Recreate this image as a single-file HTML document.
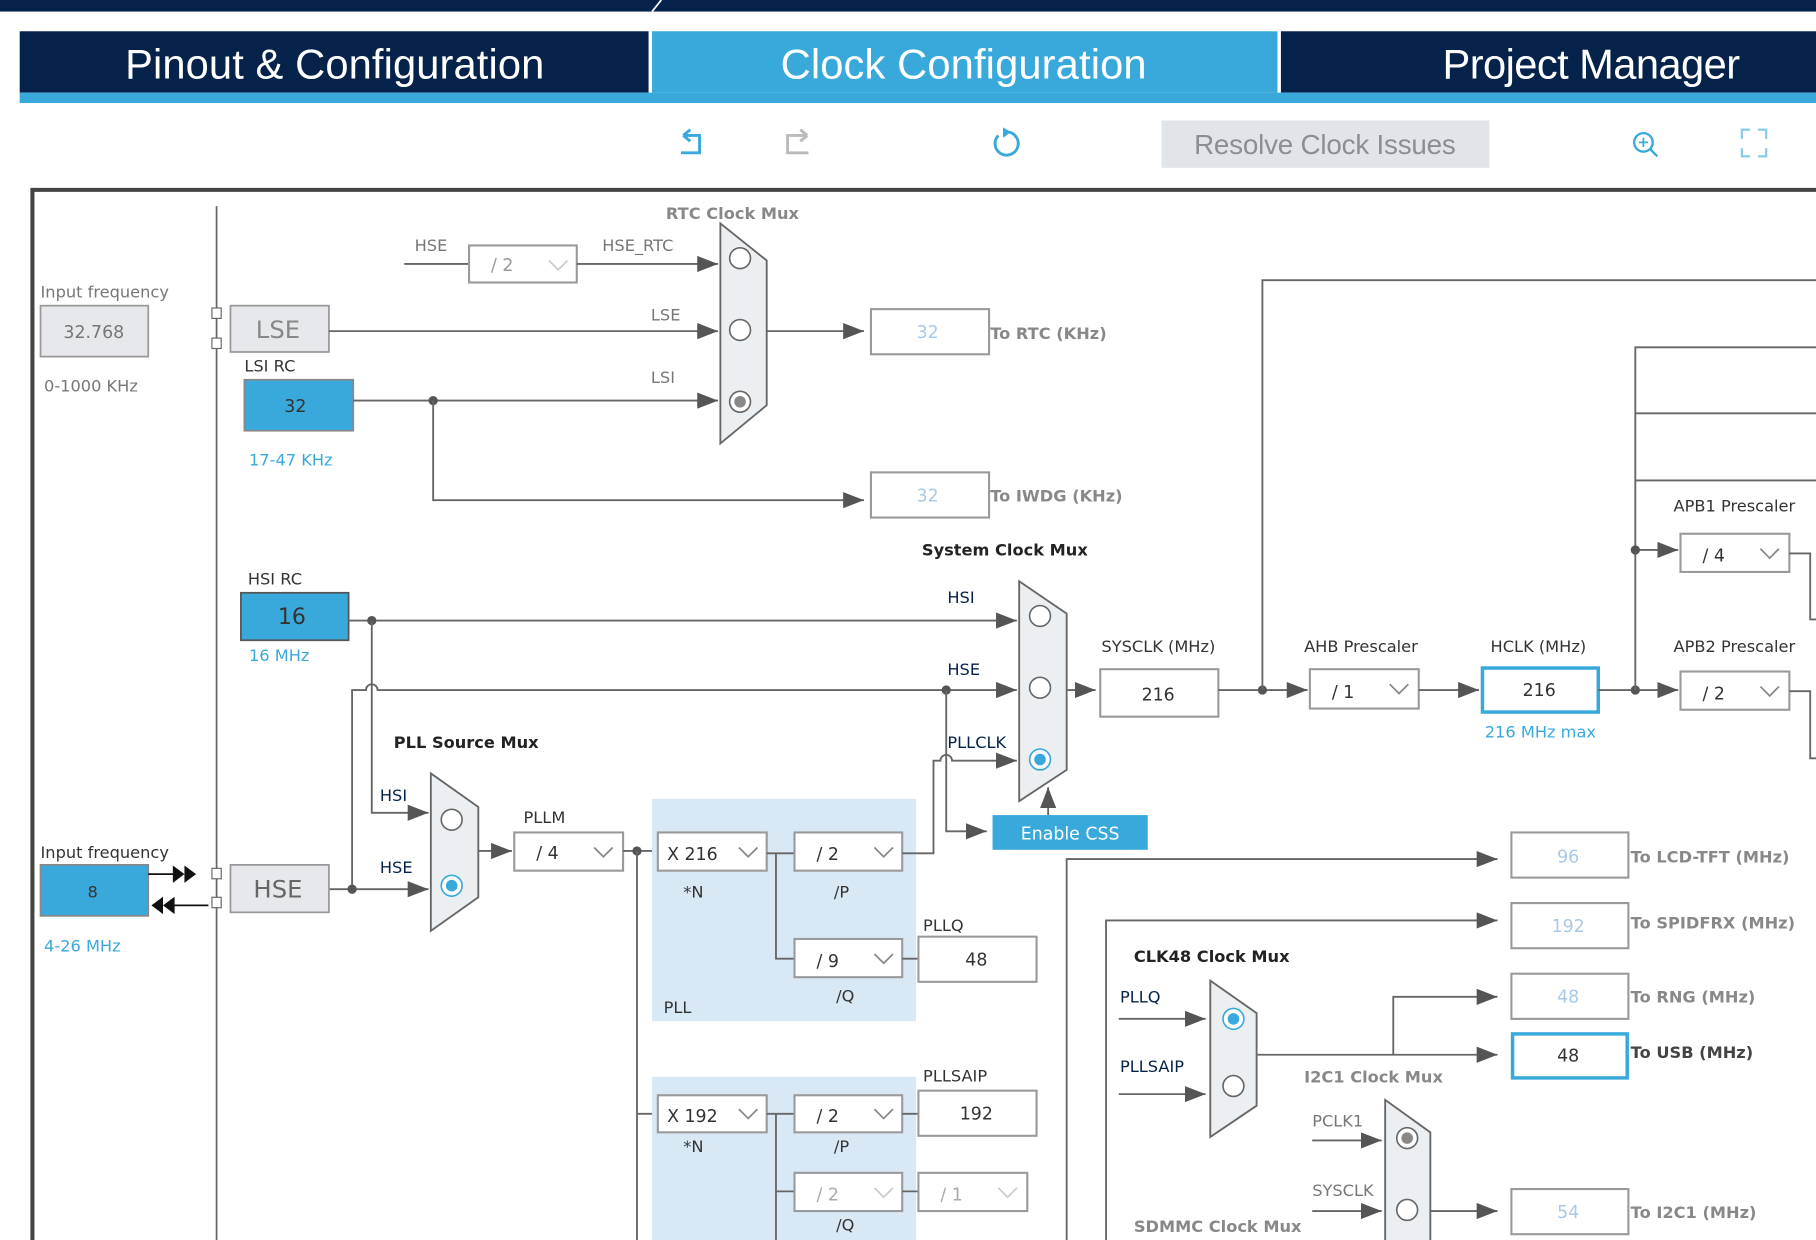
<!DOCTYPE html>
<html><head><meta charset="utf-8"><style>
html,body{margin:0;padding:0;background:#fff;overflow:hidden}
svg{display:block}
text{font-family:"DejaVu Sans","Liberation Sans",sans-serif}
.l{stroke:#666;stroke-width:1.6;fill:none}
.bx{fill:#fff;stroke:#999;stroke-width:1.8}
.ch{fill:none;stroke:#888;stroke-width:1.5}
.chd{fill:none;stroke:#ccc;stroke-width:1.5}
.t{font-size:14px;fill:#333}
.g{font-size:14px;fill:#777}
.b{font-size:14px;fill:#222;font-weight:bold}
.gb{font-size:14px;fill:#888;font-weight:bold}
.blu{font-size:14px;fill:#39a9dc}
.v{font-size:15px;fill:#333;text-anchor:middle}
.vl{font-size:15px;fill:#a9c8e6;text-anchor:middle}
.mux{fill:#eceff2;stroke:#666;stroke-width:1.6}
.c{fill:#fff;stroke:#666;stroke-width:1.4}
.dot{fill:#555}
.tab{font-family:"Liberation Sans",sans-serif}
</style></head><body>
<svg width="1816" height="1240" viewBox="0 0 1568 1071" preserveAspectRatio="none" xmlns="http://www.w3.org/2000/svg">
<defs>
<marker id="ar" markerWidth="20" markerHeight="14" refX="18" refY="7" orient="auto" markerUnits="userSpaceOnUse"><path d="M0,0 L18,7 L0,14 z" fill="#555"/></marker></defs>
<!-- header -->
<rect x="0" y="0" width="1568" height="10" fill="#05224a"/>
<line x1="571" y1="0" x2="563" y2="10" stroke="#fff" stroke-width="1.5"/>
<rect x="17" y="27" width="543" height="53" fill="#05224a"/>
<rect x="563" y="27" width="540" height="53" fill="#39a9dc"/>
<rect x="1106" y="27" width="462" height="53" fill="#05224a"/>
<rect x="17" y="80" width="1551" height="9" fill="#39a9dc"/>
<text class="tab" x="289" y="68" font-size="36" fill="#fff" text-anchor="middle" textLength="362">Pinout &amp; Configuration</text>
<text class="tab" x="832" y="68" font-size="36" fill="#fff" text-anchor="middle" textLength="316">Clock Configuration</text>
<text class="tab" x="1374" y="68" font-size="36" fill="#fff" text-anchor="middle" textLength="257">Project Manager</text>
<!-- toolbar -->
<path d="M590,117 L596,112 M590,117 L596,122 M590,117 H604 V132 H588" stroke="#39a9dc" stroke-width="2.5" fill="none"/>
<path d="M697,117 L691,112 M697,117 L691,122 M697,117 H680 V132 H698" stroke="#bbb" stroke-width="2.5" fill="none"/>
<path d="M862,117 A10,10 0 1 0 870,114" stroke="#39a9dc" stroke-width="2.5" fill="none"/><path d="M866,110 L873,114 L866,119z" fill="#39a9dc"/>
<rect x="1003" y="104" width="283" height="41" fill="#e2e5e8"/>
<text class="tab" x="1144" y="133" font-size="24" fill="#8a8f94" text-anchor="middle" textLength="226">Resolve Clock Issues</text>
<circle cx="1419" cy="123" r="8" stroke="#39a9dc" stroke-width="2" fill="none"/><line x1="1425" y1="129" x2="1431" y2="135" stroke="#39a9dc" stroke-width="2"/><path d="M1415,123h8M1419,119v8" stroke="#39a9dc" stroke-width="1.5"/>
<path d="M1504,120v-8h7M1518,112h7v8M1525,128v7h-7M1511,135h-7v-7" stroke="#8ccbeb" stroke-width="2" fill="none"/>
<!-- frame -->
<path d="M28,1071 V164 H1568" stroke="#444" stroke-width="3.5" fill="none"/>
<line x1="187" y1="178" x2="187" y2="1071" stroke="#666" stroke-width="1.5"/>
<!-- LSE -->
<text x="35" y="257" class="g">Input frequency</text>
<rect x="35" y="264" width="93" height="44" fill="#e6e8eb" stroke="#999" stroke-width="1.5"/>
<text x="81" y="292" class="v" style="fill:#777">32.768</text>
<text x="38" y="338" class="g">0-1000 KHz</text>
<rect x="183" y="266" width="8" height="9" fill="#fff" stroke="#666"/><rect x="183" y="292" width="8" height="9" fill="#fff" stroke="#666"/>
<rect x="199" y="264" width="85" height="40" fill="#e6e8eb" stroke="#999" stroke-width="1.5"/>
<text x="240" y="292" font-size="21" fill="#888" text-anchor="middle">LSE</text>
<text x="211" y="321" class="t">LSI RC</text>
<rect x="211" y="328" width="94" height="44" fill="#39a9dc" stroke="#888" stroke-width="1.5"/>
<text x="255" y="356" class="v">32</text>
<text x="215" y="402" class="blu">17-47 KHz</text>
<!-- RTC -->
<text x="575" y="189" class="gb">RTC Clock Mux</text>
<line x1="349" y1="228" x2="405" y2="228" class="l"/>
<text x="358" y="217" class="g">HSE</text>
<rect x="405" y="212" width="93" height="32" class="bx"/>
<text x="424" y="234" font-size="15" fill="#999">/ 2</text><polyline points="474,225 482,233 490,225" class="chd"/>
<line x1="498" y1="228" x2="620" y2="228" class="l" marker-end="url(#ar)"/>
<text x="520" y="217" class="g">HSE_RTC</text>
<line x1="284" y1="286" x2="620" y2="286" class="l" marker-end="url(#ar)"/>
<text x="562" y="277" class="g">LSE</text>
<line x1="305" y1="346" x2="620" y2="346" class="l" marker-end="url(#ar)"/>
<text x="562" y="331" class="g">LSI</text>
<circle cx="374" cy="346" r="4" class="dot"/>
<polyline points="374,346 374,432 746,432" class="l" marker-end="url(#ar)"/>
<polygon points="622,193 662,225 662,350 622,383" class="mux"/>
<circle cx="639" cy="223" r="9" class="c"/><circle cx="639" cy="285" r="9" class="c"/><circle cx="639" cy="347" r="9" class="c"/><circle cx="639" cy="347" r="5" fill="#888"/>
<line x1="662" y1="286" x2="746" y2="286" class="l" marker-end="url(#ar)"/>
<rect x="752" y="267" width="102" height="39" class="bx"/><text x="801" y="292" class="vl">32</text>
<text x="855" y="293" class="gb">To RTC (KHz)</text>
<rect x="752" y="408" width="102" height="39" class="bx"/><text x="801" y="433" class="vl">32</text>
<text x="855" y="433" class="gb">To IWDG (KHz)</text>
<!-- HSI -->
<text x="796" y="480" class="b">System Clock Mux</text>
<text x="214" y="505" class="t">HSI RC</text>
<rect x="208" y="512" width="93" height="41" fill="#39a9dc" stroke="#555" stroke-width="1.5"/>
<text x="252" y="539" font-size="19" fill="#333" text-anchor="middle">16</text>
<text x="215" y="571" class="blu">16 MHz</text>
<line x1="301" y1="536" x2="878" y2="536" class="l" marker-end="url(#ar)"/>
<circle cx="321" cy="536" r="4" class="dot"/>
<text x="818" y="521" class="t" style="fill:#05224a">HSI</text>
<path d="M304,768 V596 H316 A5,5 0 0 1 326,596 H878" class="l" marker-end="url(#ar)"/>
<text x="818" y="583" class="t" style="fill:#05224a">HSE</text>
<circle cx="817" cy="596" r="4" class="dot"/>
<polyline points="321,536 321,702 370,702" class="l" marker-end="url(#ar)"/>
<text x="328" y="692" class="t" style="fill:#05224a">HSI</text>
<line x1="284" y1="768" x2="370" y2="768" class="l" marker-end="url(#ar)"/>
<circle cx="304" cy="768" r="4" class="dot"/>
<text x="328" y="754" class="t" style="fill:#05224a">HSE</text>
<!-- HSE input -->
<text x="35" y="741" class="t">Input frequency</text>
<rect x="35" y="747" width="93" height="44" fill="#39a9dc" stroke="#888" stroke-width="1.5"/>
<text x="80" y="775" class="v" style="font-size:14px">8</text>
<text x="38" y="822" class="blu">4-26 MHz</text>
<path d="M128,755h22M150,749l8,6l-8,6zM160,749l8,6l-8,6z" stroke="#111" fill="#111" stroke-width="1.5"/>
<path d="M145,782h35M140,776l-8,6l8,6zM150,776l-8,6l8,6z" stroke="#111" fill="#111" stroke-width="1.5"/>
<rect x="183" y="750" width="8" height="9" fill="#fff" stroke="#666"/><rect x="183" y="775" width="8" height="9" fill="#fff" stroke="#666"/>
<rect x="199" y="747" width="85" height="41" fill="#e6e8eb" stroke="#999" stroke-width="1.5"/>
<text x="240" y="775" font-size="21" fill="#666" text-anchor="middle">HSE</text>
<!-- PLL mux -->
<text x="340" y="646" class="b">PLL Source Mux</text>
<polygon points="372,668 413,697 413,775 372,804" class="mux"/>
<circle cx="390" cy="708" r="9" class="c"/><circle cx="390" cy="765" r="9" class="c" style="stroke:#39a9dc"/><circle cx="390" cy="765" r="5" fill="#39a9dc"/>
<text x="452" y="711" class="t">PLLM</text>
<line x1="413" y1="735" x2="442" y2="735" class="l" marker-end="url(#ar)"/>
<rect x="444" y="719" width="94" height="33" class="bx"/>
<text x="463" y="742" font-size="15" fill="#333">/ 4</text><polyline points="513,732 521,740 529,732" class="ch"/>
<line x1="538" y1="735" x2="568" y2="735" class="l"/>
<circle cx="550" cy="735" r="4" class="dot"/>
<line x1="550" y1="735" x2="550" y2="1071" class="l"/>
<line x1="550" y1="962" x2="568" y2="962" class="l"/>
<!-- PLL -->
<rect x="563" y="690" width="228" height="192" fill="#d9e8f5"/>
<text x="573" y="875" class="t">PLL</text>
<rect x="568" y="719" width="94" height="33" class="bx"/>
<text x="576" y="743" font-size="15" fill="#333">X 216</text><polyline points="638,732 646,740 654,732" class="ch"/>
<text x="590" y="775" class="t">*N</text>
<polyline points="662,737 686,737" class="l"/>
<polyline points="670,737 670,828 686,828" class="l"/>
<rect x="686" y="719" width="93" height="33" class="bx"/>
<text x="705" y="743" font-size="15" fill="#333">/ 2</text><polyline points="755,732 763,740 771,732" class="ch"/>
<text x="720" y="775" class="t">/P</text>
<rect x="686" y="811" width="93" height="33" class="bx"/>
<text x="705" y="835" font-size="15" fill="#333">/ 9</text><polyline points="755,824 763,832 771,824" class="ch"/>
<text x="722" y="865" class="t">/Q</text>
<line x1="779" y1="828" x2="793" y2="828" class="l"/>
<text x="797" y="804" class="t">PLLQ</text>
<rect x="793" y="809" width="102" height="39" class="bx"/><text x="843" y="834" class="v">48</text>
<path d="M779,737 H806 V657 H812 A5,5 0 0 1 822,657 H878" class="l" marker-end="url(#ar)"/>
<text x="818" y="646" class="t" style="fill:#05224a">PLLCLK</text>
<polyline points="817,596 817,718 852,718" class="l" marker-end="url(#ar)"/>
<polygon points="880,502 921,530 921,665 880,692" class="mux"/>
<circle cx="898" cy="532" r="9" class="c"/><circle cx="898" cy="594" r="9" class="c"/><circle cx="898" cy="656" r="9" class="c" style="stroke:#39a9dc"/><circle cx="898" cy="656" r="5" fill="#39a9dc"/>
<line x1="905" y1="704" x2="905" y2="680" class="l" marker-end="url(#ar)"/>
<rect x="857" y="704" width="134" height="30" fill="#39a9dc"/>
<text x="924" y="725" font-size="15" fill="#fff" text-anchor="middle">Enable CSS</text>
<!-- SYSCLK chain -->
<line x1="921" y1="596" x2="946" y2="596" class="l" marker-end="url(#ar)"/>
<text x="951" y="563" class="t">SYSCLK (MHz)</text>
<rect x="950" y="578" width="102" height="41" class="bx"/><text x="1000" y="605" class="v">216</text>
<line x1="1052" y1="596" x2="1129" y2="596" class="l" marker-end="url(#ar)"/>
<circle cx="1090" cy="596" r="4" class="dot"/>
<polyline points="1090,596 1090,242 1568,242" class="l"/>
<text x="1126" y="563" class="t">AHB Prescaler</text>
<rect x="1131" y="578" width="94" height="34" class="bx"/>
<text x="1150" y="603" font-size="15" fill="#333">/ 1</text><polyline points="1200,591 1208,599 1216,591" class="ch"/>
<line x1="1225" y1="596" x2="1277" y2="596" class="l" marker-end="url(#ar)"/>
<text x="1287" y="563" class="t">HCLK (MHz)</text>
<rect x="1280" y="577" width="100" height="38" fill="#fff" stroke="#39a9dc" stroke-width="3"/><text x="1329" y="601" class="v">216</text>
<text x="1282" y="637" class="blu">216 MHz max</text>
<line x1="1380" y1="596" x2="1449" y2="596" class="l" marker-end="url(#ar)"/>
<circle cx="1412" cy="596" r="4" class="dot"/>
<polyline points="1412,596 1412,300 1568,300" class="l"/>
<line x1="1412" y1="357" x2="1568" y2="357" class="l"/>
<line x1="1412" y1="415" x2="1568" y2="415" class="l"/>
<line x1="1412" y1="475" x2="1449" y2="475" class="l" marker-end="url(#ar)"/>
<circle cx="1412" cy="475" r="4" class="dot"/>
<text x="1445" y="442" class="t">APB1 Prescaler</text>
<rect x="1451" y="461" width="94" height="33" class="bx"/>
<text x="1470" y="485" font-size="15" fill="#333">/ 4</text><polyline points="1520,474 1528,482 1536,474" class="ch"/>
<text x="1445" y="563" class="t">APB2 Prescaler</text>
<rect x="1451" y="580" width="94" height="33" class="bx"/>
<text x="1470" y="604" font-size="15" fill="#333">/ 2</text><polyline points="1520,593 1528,601 1536,593" class="ch"/>
<polyline points="1545,478 1563,478 1563,535 1568,535" class="l"/>
<polyline points="1545,597 1563,597 1563,655 1568,655" class="l"/>
<!-- right outputs -->
<polyline points="921,1071 921,742 1293,742" class="l" marker-end="url(#ar)"/>
<rect x="1305" y="719" width="101" height="39" class="bx"/><text x="1354" y="745" class="vl">96</text>
<text x="1408" y="745" class="gb">To LCD-TFT (MHz)</text>
<polyline points="955,1071 955,795 1293,795" class="l" marker-end="url(#ar)"/>
<rect x="1305" y="780" width="101" height="39" class="bx"/><text x="1354" y="805" class="vl">192</text>
<text x="1408" y="802" class="gb">To SPIDFRX (MHz)</text>
<text x="979" y="831" class="b">CLK48 Clock Mux</text>
<text x="967" y="866" class="t" style="fill:#05224a">PLLQ</text>
<line x1="966" y1="880" x2="1041" y2="880" class="l" marker-end="url(#ar)"/>
<text x="967" y="926" class="t" style="fill:#05224a">PLLSAIP</text>
<line x1="966" y1="945" x2="1041" y2="945" class="l" marker-end="url(#ar)"/>
<polygon points="1045,847 1085,875 1085,955 1045,982" class="mux"/>
<circle cx="1065" cy="880" r="9" class="c" style="stroke:#39a9dc"/><circle cx="1065" cy="880" r="5" fill="#39a9dc"/><circle cx="1065" cy="938" r="9" class="c"/>
<line x1="1085" y1="911" x2="1293" y2="911" class="l" marker-end="url(#ar)"/>
<polyline points="1203,911 1203,861 1293,861" class="l" marker-end="url(#ar)"/>
<rect x="1305" y="841" width="101" height="39" class="bx"/><text x="1354" y="866" class="vl">48</text>
<text x="1408" y="866" class="gb">To RNG (MHz)</text>
<rect x="1306" y="893" width="99" height="38" fill="#fff" stroke="#39a9dc" stroke-width="3"/><text x="1354" y="917" class="v">48</text>
<text x="1408" y="914" class="b" style="fill:#444">To USB (MHz)</text>
<text x="1126" y="935" class="gb">I2C1 Clock Mux</text>
<text x="1133" y="973" class="g">PCLK1</text>
<line x1="1133" y1="985" x2="1193" y2="985" class="l" marker-end="url(#ar)"/>
<text x="1133" y="1033" class="g">SYSCLK</text>
<line x1="1133" y1="1046" x2="1193" y2="1046" class="l" marker-end="url(#ar)"/>
<polygon points="1196,950 1235,978 1235,1075 1196,1075" class="mux"/>
<circle cx="1215" cy="983" r="9" class="c"/><circle cx="1215" cy="983" r="5" fill="#888"/><circle cx="1215" cy="1045" r="9" class="c"/>
<line x1="1235" y1="1046" x2="1293" y2="1046" class="l" marker-end="url(#ar)"/>
<rect x="1305" y="1027" width="101" height="39" class="bx"/><text x="1354" y="1052" class="vl">54</text>
<text x="1408" y="1052" class="gb">To I2C1 (MHz)</text>
<text x="979" y="1064" class="gb">SDMMC Clock Mux</text>
<!-- PLLSAI -->
<rect x="563" y="930" width="228" height="141" fill="#d9e8f5"/>
<rect x="568" y="946" width="94" height="32" class="bx"/>
<text x="576" y="969" font-size="15" fill="#333">X 192</text><polyline points="638,958 646,966 654,958" class="ch"/>
<text x="590" y="995" class="t">*N</text>
<line x1="662" y1="962" x2="686" y2="962" class="l"/>
<polyline points="670,962 670,1071" class="l"/>
<line x1="670" y1="1029" x2="686" y2="1029" class="l"/>
<rect x="686" y="946" width="93" height="32" class="bx"/>
<text x="705" y="969" font-size="15" fill="#333">/ 2</text><polyline points="755,958 763,966 771,958" class="ch"/>
<text x="720" y="995" class="t">/P</text>
<line x1="779" y1="962" x2="793" y2="962" class="l"/>
<text x="797" y="934" class="t">PLLSAIP</text>
<rect x="793" y="942" width="102" height="39" class="bx"/><text x="843" y="967" class="v">192</text>
<rect x="686" y="1013" width="93" height="33" class="bx"/>
<text x="705" y="1037" font-size="15" fill="#aaa">/ 2</text><polyline points="755,1026 763,1034 771,1026" class="chd"/>
<text x="722" y="1063" class="t">/Q</text>
<line x1="779" y1="1029" x2="793" y2="1029" class="l"/>
<rect x="793" y="1013" width="94" height="33" class="bx"/>
<text x="812" y="1037" font-size="15" fill="#aaa">/ 1</text><polyline points="862,1026 870,1034 878,1026" class="chd"/>
</svg>
</body></html>
